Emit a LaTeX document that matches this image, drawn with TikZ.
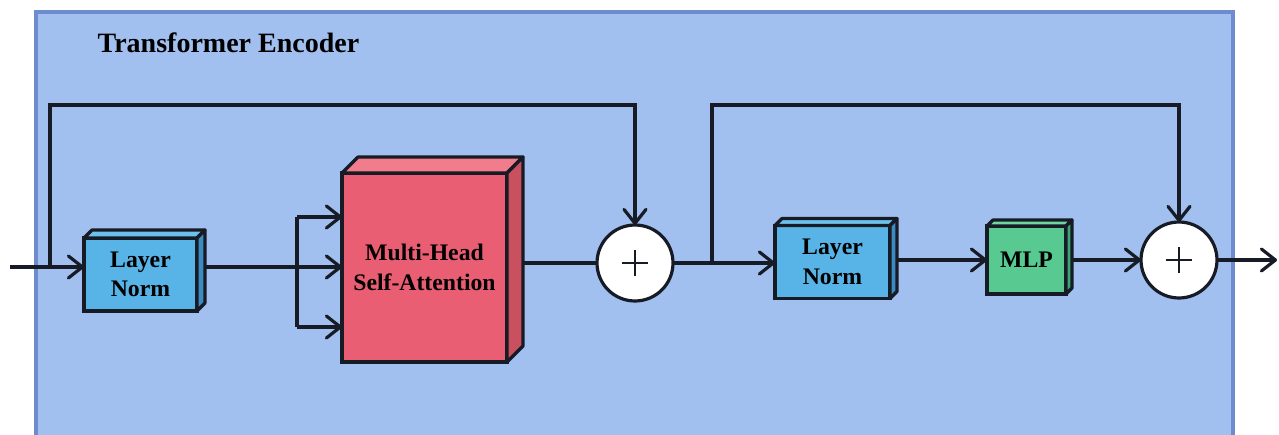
\documentclass[tikz,border=0pt]{standalone}
\usepackage{fontspec}
\setmainfont{Liberation Serif}
\usetikzlibrary{arrows.meta,calc}
\pgfdeclarelayer{bglayer}
\pgfdeclarelayer{connlayer}
\pgfsetlayers{bglayer,connlayer,main}
\definecolor{bgfill}{HTML}{A1C0EF}
\definecolor{bgdraw}{HTML}{6E8BCF}
\definecolor{linec}{HTML}{161B26}
\definecolor{lnfront}{HTML}{58B4E6}
\definecolor{lntop}{HTML}{6CC0EC}
\definecolor{lnside}{HTML}{3B8CC0}
\definecolor{mhfront}{HTML}{EA5E73}
\definecolor{mhtop}{HTML}{F07C8C}
\definecolor{mhside}{HTML}{C9505F}
\definecolor{mlfront}{HTML}{57C991}
\definecolor{mltop}{HTML}{6ED7A0}
\definecolor{mlside}{HTML}{3FA572}
\newcommand{\mycube}[4]{%
  \filldraw[facestyle,fill=#3] (#1.north west) -- ++(#2,-#2) -- ([shift={(#2,-#2)}]#1.north east) -- (#1.north east) -- cycle;
  \filldraw[facestyle,fill=#4] (#1.north east) -- ++(#2,-#2) -- ([shift={(#2,-#2)}]#1.south east) -- (#1.south east) -- cycle;
}
\begin{document}
\begin{tikzpicture}[x=0.75pt,y=-0.75pt,
  box/.style={draw=linec, line width=2.4pt, inner sep=0pt, outer sep=0pt, align=center,
    font=\fontsize{17.8}{22}\selectfont\bfseries, text=black},
  facestyle/.style={draw=linec, line width=2.4pt, line join=round},
  sumnode/.style={circle, draw=linec, fill=white, line width=2.4pt, minimum size=57pt, inner sep=0pt, outer sep=0pt,
    path picture={
      \draw[line width=1.4pt,linec] ([xshift=-10pt]path picture bounding box.center) -- ([xshift=10pt]path picture bounding box.center);
      \draw[line width=1.4pt,linec] ([yshift=-10pt]path picture bounding box.center) -- ([yshift=10pt]path picture bounding box.center);
    }},
  conn/.style={draw=linec, line width=2.4pt},
  arr/.style={conn, -{Straight Barb[length=10.5pt,width=16.5pt,round]}}
]
\useasboundingbox (0,0) rectangle (1279,435);
\begin{pgfonlayer}{bglayer}
  \begin{scope}
    \clip (0,0) rectangle (1279,435);
    \fill[white] (0,0) rectangle (1279,435);
    \draw[fill=bgfill, draw=bgdraw, line width=2.4pt] (36,12) rectangle (1233,480);
  \end{scope}
\end{pgfonlayer}

\node[anchor=base west, font=\fontsize{21}{25}\selectfont\bfseries] (title) at (93,53) {Transformer Encoder};

% blocks
\node[box, fill=lnfront, minimum width=113*0.75pt, minimum height=73*0.75pt] (ln1) at (140.5,274.5) {Layer\\Norm};
\mycube{ln1}{8}{lntop}{lnside}
\node[box, fill=mhfront, minimum width=165*0.75pt, minimum height=189*0.75pt] (mhsa) at (424.5,267.5) {Multi-Head\\Self-Attention};
\mycube{mhsa}{16}{mhtop}{mhside}
\node[sumnode] (add1) at (635,263) {};
\node[box, fill=lnfront, minimum width=115*0.75pt, minimum height=73*0.75pt] (ln2) at (832.5,262) {Layer\\Norm};
\mycube{ln2}{7}{lntop}{lnside}
\node[box, fill=mlfront, minimum width=79*0.75pt, minimum height=68*0.75pt] (mlp) at (1026.5,260) {MLP};
\mycube{mlp}{6}{mltop}{mlside}
\node[sumnode] (add2) at (1179,260) {};

% coordinates
\coordinate (inp) at (10,267);
\coordinate (sk1) at (50,267);
\coordinate (br) at (297,267);
\coordinate (bt) at (297,217);
\coordinate (bb) at (297,327);
\coordinate (sk2) at (712,263);
\coordinate (outp) at (1277,260);

\begin{pgfonlayer}{connlayer}
  \draw[arr] (inp) -- (inp -| ln1.west);
  \draw[conn] (inp -| ln1.east) -- (br);
  \draw[conn] (bt) -- (bb);
  \draw[arr] (bt) -- (bt -| mhsa.west);
  \draw[arr] (br) -- (br -| mhsa.west);
  \draw[arr] (bb) -- (bb -| mhsa.west);
  \draw[conn] (mhsa.east |- add1) -- (add1.west);
  \draw[arr] (sk1) |- (50,105) -| (add1.north);
  \draw[arr] (add1.east) -- (add1.east -| ln2.west);
  \draw[arr] (sk2) |- (712,105) -| (add2.north);
  \draw[arr] (ln2.east |- mlp) -- (mlp.west);
  \draw[arr] (mlp.east) -- (add2.west);
  \draw[arr] (add2.east) -- (outp);
\end{pgfonlayer}
\end{tikzpicture}
\end{document}
